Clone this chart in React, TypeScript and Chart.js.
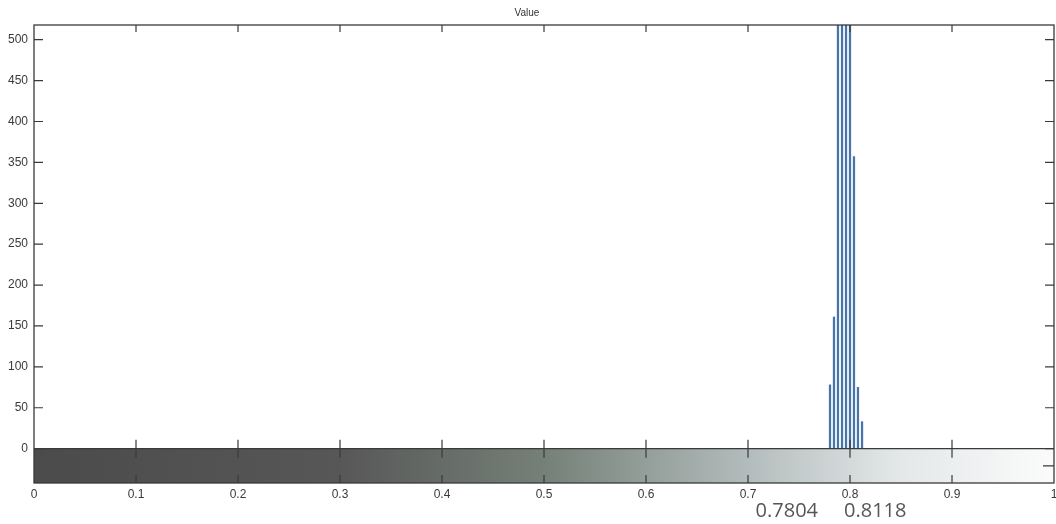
import React, { useEffect, useRef } from "react";
import { Chart, registerables } from "chart.js";

Chart.register(...registerables);

// Histogram bins (intensity values) and their pixel counts
const binCenters = [0.7804, 0.7843, 0.7882, 0.7922, 0.7961, 0.8, 0.8039, 0.8078, 0.8118];
const binCounts = [78, 161, 1450, 2600, 2900, 1700, 357, 75, 33];

// Axis ticks
const yTicks = [0, 50, 100, 150, 200, 250, 300, 350, 400, 450, 500];
const xTicks = [0, 0.1, 0.2, 0.3, 0.4, 0.5, 0.6, 0.7, 0.8, 0.9, 1];

// Range annotations written under the axis
const rangeMarks = [0.7804, 0.8118];

const Y_MIN = -42;
const Y_MAX = 518;

export default function App() {
  const canvasRef = useRef<HTMLCanvasElement | null>(null);

  useEffect(() => {
    document.body.style.margin = "0";
    const canvas = canvasRef.current;
    if (!canvas) return;

    const frame = {
      id: "matlabFrame",
      beforeDatasetsDraw(chart: any) {
        const { ctx, chartArea } = chart;
        const y = chart.scales.y;
        const y0 = y.getPixelForValue(0);
        const g = ctx.createLinearGradient(chartArea.left, 0, chartArea.right, 0);
        g.addColorStop(0, "#4b4b4b");
        g.addColorStop(0.3, "#575757");
        g.addColorStop(0.5, "#758078");
        g.addColorStop(0.7, "#b3bcbc");
        g.addColorStop(0.85, "#e4e8e9");
        g.addColorStop(1, "#fbfbfb");
        ctx.save();
        ctx.fillStyle = g;
        ctx.fillRect(chartArea.left, y0, chartArea.right - chartArea.left, chartArea.bottom - y0);
        ctx.restore();
      },
      afterDraw(chart: any) {
        const { ctx, chartArea } = chart;
        const xs = chart.scales.x;
        const ys = chart.scales.y;
        const { left, right, top, bottom } = chartArea;
        const y0 = ys.getPixelForValue(0);
        ctx.save();
        ctx.strokeStyle = "#3a3a3a";
        ctx.lineWidth = 1.3;
        ctx.strokeRect(left, top, right - left, bottom - top);
        ctx.beginPath();
        ctx.moveTo(left, y0);
        ctx.lineTo(right, y0);
        ctx.stroke();
        ctx.lineWidth = 1.2;
        ctx.beginPath();
        yTicks.forEach((v) => {
          const py = ys.getPixelForValue(v);
          ctx.moveTo(left, py);
          ctx.lineTo(left + 9, py);
          ctx.moveTo(right, py);
          ctx.lineTo(right - 9, py);
        });
        xTicks.slice(1, -1).forEach((v) => {
          const px = xs.getPixelForValue(v);
          ctx.moveTo(px, top);
          ctx.lineTo(px, top + 7);
          ctx.moveTo(px, y0 - 9);
          ctx.lineTo(px, y0 + 9);
          ctx.moveTo(px, bottom);
          ctx.lineTo(px, bottom - 8);
        });
        const mid = (y0 + bottom) / 2;
        ctx.moveTo(right, mid);
        ctx.lineTo(right - 11, mid);
        ctx.stroke();

        ctx.fillStyle = "#555";
        ctx.font = '20px "Open Sans"';
        ctx.textBaseline = "alphabetic";
        const a = xs.getPixelForValue(rangeMarks[0]);
        ctx.textAlign = "right";
        ctx.fillText(rangeMarks[0].toFixed(4), a - 12, 517);
        const b = xs.getPixelForValue(rangeMarks[1]);
        ctx.textAlign = "left";
        ctx.fillText(rangeMarks[1].toFixed(4), b - 18, 517);
        ctx.restore();
      },
    };

    const chart = new Chart(canvas, {
      type: "bar",
      data: {
        datasets: [
          {
            data: binCenters.map((x, i) => ({ x, y: binCounts[i] })),
            backgroundColor: "#4674ab",
            borderWidth: 0,
            barThickness: 1.6,
          },
        ],
      },
      options: {
        animation: false,
        responsive: false,
        maintainAspectRatio: false,
        layout: { padding: { left: 0, right: 2, top: 0, bottom: 0 } },
        plugins: {
          legend: { display: false },
          tooltip: { enabled: false },
          title: {
            display: true,
            text: "Value",
            color: "#333",
            font: { family: '"Liberation Sans", Arial, sans-serif', size: 10, weight: "normal" },
            padding: { top: 7, bottom: 6 },
          },
        },
        scales: {
          x: {
            type: "linear",
            offset: false,
            min: 0,
            max: 1,
            afterBuildTicks: (s: any) => {
              s.ticks = xTicks.map((v) => ({ value: v }));
            },
            afterFit: (s: any) => {
              s.height = 41;
              s.paddingLeft = 0;
              s.paddingRight = 0;
            },
            ticks: {
              autoSkip: false,
              maxRotation: 0,
              padding: 4,
              color: "#3a3a3a",
              font: { family: '"Liberation Sans", Arial, sans-serif', size: 12 },
              callback: (v: any) => String(Number(Number(v).toFixed(1))),
            },
            grid: { display: false, drawTicks: false, offset: false },
            border: { display: false },
          },
          y: {
            type: "linear",
            min: Y_MIN,
            max: Y_MAX,
            afterBuildTicks: (s: any) => {
              s.ticks = yTicks.map((v) => ({ value: v }));
            },
            afterFit: (s: any) => {
              s.width = 34;
              s.paddingTop = 0;
              s.paddingBottom = 0;
            },
            ticks: {
              autoSkip: false,
              padding: 6,
              color: "#3a3a3a",
              font: { family: '"Liberation Sans", Arial, sans-serif', size: 12 },
            },
            grid: { display: false, drawTicks: false },
            border: { display: false },
          },
        },
      },
      plugins: [frame],
    } as any);

    return () => chart.destroy();
  }, []);

  return (
    <div style={{ position: "absolute", left: 0, top: 0, width: 1056, height: 524, background: "#fff" }}>
      <canvas ref={canvasRef} width={1056} height={524} style={{ width: 1056, height: 524 }} />
    </div>
  );
}
